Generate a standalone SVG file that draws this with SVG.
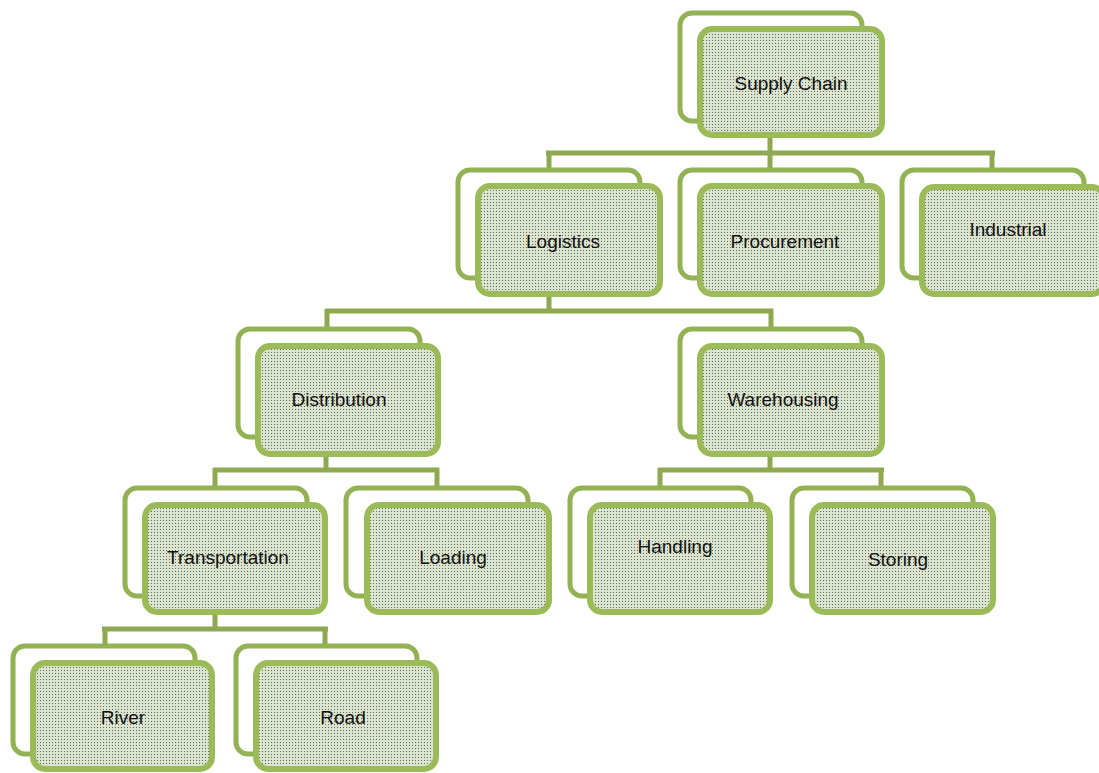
<svg xmlns="http://www.w3.org/2000/svg" width="1099" height="773" viewBox="0 0 1099 773">
<defs>
<pattern id="dots" width="3" height="3" patternUnits="userSpaceOnUse">
<rect width="3" height="3" fill="#dbe4cf"/>
<rect x="1" y="1" width="1" height="1" fill="#5f665a"/>
</pattern>
</defs>
<style>
.back{fill:#ffffff;stroke:#93b254;stroke-width:5}
.front{fill:url(#dots);stroke:#9bbb59;stroke-width:6}
.lbl{font-family:"Liberation Sans",Arial,sans-serif;font-size:19px;fill:#111;text-anchor:middle}
.conn{fill:none;stroke:#8ea952;stroke-width:5}
</style>
<rect width="1099" height="773" fill="#ffffff"/>
<g id="connectors">
<path class="conn" d="M770,138V153M546,153H995M549,151V170M770,151V170M992,151V170"/>
<path class="conn" d="M549,297V311M325,311H773M327,309V329M771,309V329"/>
<path class="conn" d="M326,457V470M213,470H439M215,468V488M437,468V488"/>
<path class="conn" d="M770,457V470M658,470H884M660,468V488M881,468V488"/>
<path class="conn" d="M215,615V629M102,629H328M105,627V646M325,627V646"/>
</g>
<g id="supply-chain">
<rect class="back" x="680" y="13" width="182" height="108" rx="12"/>
<rect class="front" x="700" y="29" width="182" height="106" rx="12"/>
<text class="lbl" x="791" y="90">Supply Chain</text>
</g>
<g id="logistics">
<rect class="back" x="458" y="170" width="182" height="108" rx="12"/>
<rect class="front" x="478" y="186" width="182" height="108" rx="12"/>
<text class="lbl" x="563" y="248">Logistics</text>
</g>
<g id="procurement">
<rect class="back" x="680" y="170" width="182" height="108" rx="12"/>
<rect class="front" x="700" y="186" width="182" height="108" rx="12"/>
<text class="lbl" x="785" y="248">Procurement</text>
</g>
<g id="industrial">
<rect class="back" x="902" y="170" width="182" height="108" rx="12"/>
<rect class="front" x="922" y="187" width="182" height="107" rx="12"/>
<text class="lbl" x="1008" y="236">Industrial</text>
</g>
<g id="distribution">
<rect class="back" x="238" y="329" width="182" height="108" rx="12"/>
<rect class="front" x="258" y="346" width="180" height="108" rx="12"/>
<text class="lbl" x="339" y="406">Distribution</text>
</g>
<g id="warehousing">
<rect class="back" x="680" y="329" width="182" height="108" rx="12"/>
<rect class="front" x="700" y="346" width="182" height="108" rx="12"/>
<text class="lbl" x="783" y="406">Warehousing</text>
</g>
<g id="transportation">
<rect class="back" x="125" y="488" width="182" height="108" rx="12"/>
<rect class="front" x="145" y="505" width="180" height="107" rx="12"/>
<text class="lbl" x="228" y="564">Transportation</text>
</g>
<g id="loading">
<rect class="back" x="346" y="488" width="182" height="108" rx="12"/>
<rect class="front" x="367" y="505" width="182" height="107" rx="12"/>
<text class="lbl" x="453" y="564">Loading</text>
</g>
<g id="handling">
<rect class="back" x="570" y="488" width="181" height="108" rx="12"/>
<rect class="front" x="590" y="505" width="180" height="107" rx="12"/>
<text class="lbl" x="675" y="553">Handling</text>
</g>
<g id="storing">
<rect class="back" x="792" y="488" width="181" height="108" rx="12"/>
<rect class="front" x="812" y="505" width="181" height="107" rx="12"/>
<text class="lbl" x="898" y="566">Storing</text>
</g>
<g id="river">
<rect class="back" x="13" y="646" width="182" height="108" rx="12"/>
<rect class="front" x="33" y="663" width="179" height="106" rx="12"/>
<text class="lbl" x="123" y="724">River</text>
</g>
<g id="road">
<rect class="back" x="236" y="646" width="181" height="108" rx="12"/>
<rect class="front" x="256" y="663" width="180" height="106" rx="12"/>
<text class="lbl" x="343" y="724">Road</text>
</g>
</svg>
